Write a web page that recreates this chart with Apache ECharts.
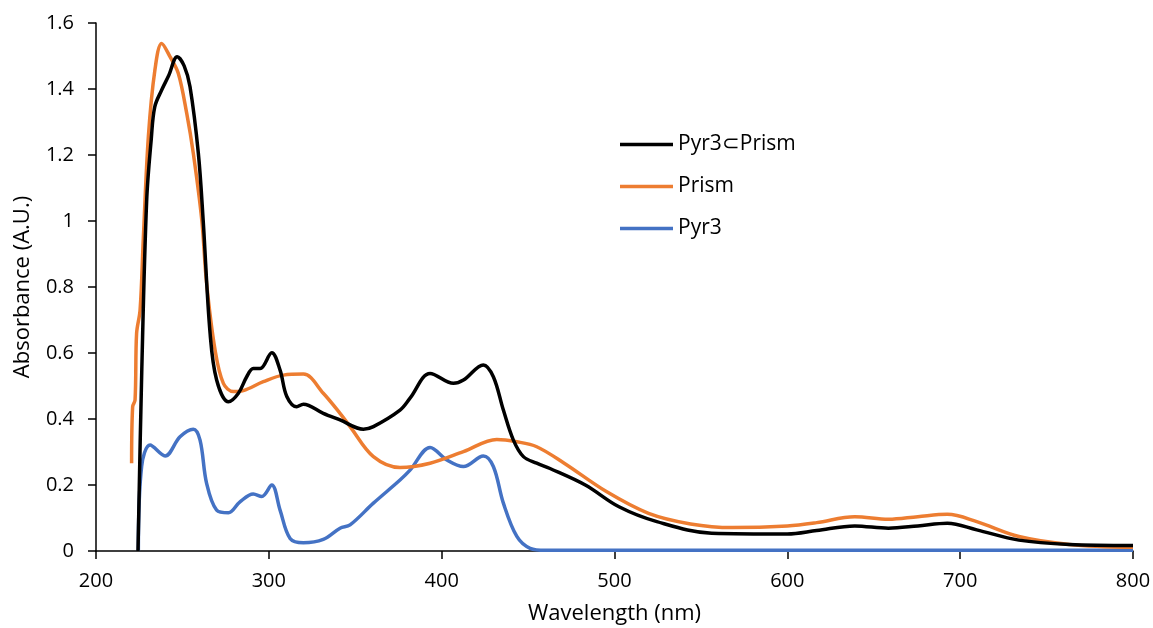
<!DOCTYPE html>
<html><head><meta charset="utf-8">
<script src="https://cdn.jsdelivr.net/npm/echarts@6/dist/echarts.min.js"></script>
<style>html,body{margin:0;padding:0;background:#fff}#c{width:1153px;height:628px}</style>
</head><body><div id="c"></div>
<script>
const xTicks = [200, 300, 400, 500, 600, 700, 800];
const yTicks = [0, 0.2, 0.4, 0.6, 0.8, 1, 1.2, 1.4, 1.6];

const complexWl = [224.3,226.5,229.3,232,234,238,242,247,251,254.4,259.2,262,266,269.8,276.6,282.4,287.2,291,295,301.7,306.5,310.4,316.1,320,331.5,341.2,354.7,360.5,375.9,381.7,393.3,406.8,412.6,424.1,429.9,435.7,441.5,447.3,455,462.7,483.1,502.6,524.5,556.2,600,617,639,658.5,675.5,692.6,709.6,734,763.2,800];
const complexAbs = [0,0.55,1.06,1.25,1.346,1.397,1.44,1.498,1.47,1.407,1.206,1.003,0.66,0.518,0.452,0.478,0.528,0.553,0.553,0.601,0.548,0.468,0.437,0.445,0.417,0.397,0.369,0.377,0.427,0.463,0.538,0.508,0.518,0.564,0.528,0.427,0.336,0.286,0.266,0.25,0.2,0.134,0.089,0.054,0.0515,0.062,0.076,0.069,0.076,0.084,0.064,0.033,0.02,0.017];

const prismWl = [220.6,221.2,222.6,223.5,225.5,227.4,230.3,234.1,238,242.8,247.6,252.5,256.3,261.2,264,268.9,273.7,279.5,285.2,296.8,308.4,320,331.5,341.2,347,360.5,375.9,393.3,412.6,431.9,443.5,455,470.9,495.3,519.7,544,568.3,600,617,639,658.5,675.5,692.6,709.6,734,763.2,800];
const prismAbs = [0.266,0.437,0.458,0.66,0.73,0.95,1.256,1.458,1.538,1.498,1.448,1.326,1.205,1.003,0.811,0.609,0.508,0.483,0.486,0.513,0.533,0.536,0.478,0.417,0.377,0.286,0.253,0.266,0.301,0.338,0.331,0.316,0.266,0.18,0.114,0.082,0.071,0.076,0.086,0.104,0.096,0.104,0.111,0.089,0.044,0.02,0.011];

const pyrWl = [224.5,226.4,231.3,240,248.6,256.3,260.2,264,269.8,276.6,283.3,291,295.9,301.7,306.5,312.3,320,331.5,341.2,347,360.5,375.9,381.7,393.3,403,412.6,424.1,429.9,435.7,443.5,451.2,460,500,600,700,800];
const pyrAbs = [0,0.256,0.321,0.288,0.346,0.369,0.336,0.205,0.124,0.116,0.149,0.173,0.165,0.2,0.124,0.038,0.025,0.035,0.069,0.079,0.145,0.215,0.245,0.314,0.276,0.256,0.288,0.256,0.145,0.044,0.008,0.002,0.002,0.002,0.002,0.002];

const seriesNames = ['Pyr3\u2282Prism', 'Prism', 'Pyr3'];
const seriesColors = ['#000000', '#ED7D31', '#4472C4'];

const zip = (a, b) => a.map((v, i) => [v, b[i]]);
const FONT = 'Open Sans';

const chart = echarts.init(document.getElementById('c'), null, {renderer: 'canvas'});
const mk = (i, data, z) => ({
  name: seriesNames[i], type: 'line', data: data, showSymbol: false, smooth: 0.35,
  lineStyle: {width: 3.5, color: seriesColors[i]}, itemStyle: {color: seriesColors[i]}, z: z
});
chart.setOption({
  animation: false,
  backgroundColor: '#fff',
  grid: {left: 96, right: 20, top: 23, bottom: 77, containLabel: false, outerBoundsMode: 'none'},
  legend: {
    orient: 'vertical', left: 620, top: 134, itemGap: 21, padding: 0,
    itemWidth: 53, itemHeight: 3.5, icon: 'rect',
    textStyle: {fontFamily: FONT, fontSize: 21, color: '#000'},
    data: seriesNames
  },
  xAxis: {
    type: 'value', min: xTicks[0], max: xTicks[xTicks.length-1], interval: 100,
    name: 'Wavelength (nm)', nameLocation: 'middle', nameGap: 52,
    nameTextStyle: {fontFamily: FONT, fontSize: 22, color: '#000'},
    axisLine: {show: true, onZero: false, lineStyle: {color: '#000', width: 1.5}},
    axisTick: {show: true, length: 8, lineStyle: {color: '#000', width: 1.5}},
    axisLabel: {fontFamily: FONT, fontSize: 20, color: '#000', margin: 20},
    splitLine: {show: false}
  },
  yAxis: {
    type: 'value', min: yTicks[0], max: yTicks[yTicks.length-1], interval: 0.2,
    name: 'Absorbance (A.U.)', nameLocation: 'middle', nameGap: 62, nameRotate: 90,
    nameTextStyle: {fontFamily: FONT, fontSize: 22, color: '#000'},
    axisLine: {show: true, lineStyle: {color: '#000', width: 1.5}},
    axisTick: {show: true, length: 8, lineStyle: {color: '#000', width: 1.5}},
    axisLabel: {fontFamily: FONT, fontSize: 20, color: '#000', margin: 22,
      formatter: v => String(Math.round(v * 10) / 10)},
    splitLine: {show: false}
  },
  series: [
    mk(0, zip(complexWl, complexAbs), 3),
    mk(1, zip(prismWl, prismAbs), 2),
    mk(2, zip(pyrWl, pyrAbs), 1)
  ]
});
</script></body></html>
